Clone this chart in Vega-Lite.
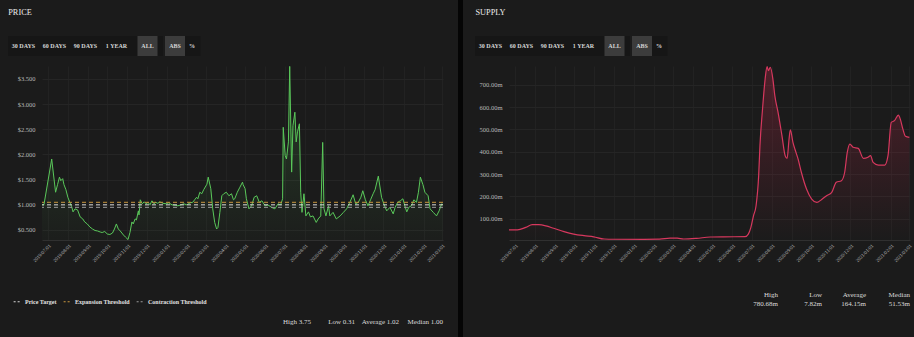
{
  "$schema": "https://vega.github.io/schema/vega-lite/v6.json",
  "background": "#1b1b1b",
  "padding": {"left": 8, "right": 7, "top": 0, "bottom": 0},
  "config": {
    "view": {"stroke": null},
    "font": "Liberation Serif",
    "axis": {"labelFont": "Liberation Serif", "labelColor": "#b8b8b8", "ticks": false, "domain": false, "title": null, "gridColor": "#252525", "gridWidth": 1},
    "legend": {"labelFont": "Liberation Serif"}
  },
  "datasets": {
    "buttons": [
      {"label": "30 DAYS", "group": "range", "active": false},
      {"label": "60 DAYS", "group": "range", "active": false},
      {"label": "90 DAYS", "group": "range", "active": false},
      {"label": "1 YEAR", "group": "range", "active": false},
      {"label": "ALL", "group": "range", "active": true},
      {"label": "ABS", "group": "mode", "active": true},
      {"label": "%", "group": "mode", "active": false}
    ],
    "thresholds": [
      {"series": "Price Target", "value": 1.0},
      {"series": "Expansion Threshold", "value": 1.05},
      {"series": "Contraction Threshold", "value": 0.95}
    ],
    "priceStats": [
      {"stat": "High", "text": "High 3.75"},
      {"stat": "Low", "text": "Low 0.31"},
      {"stat": "Average", "text": "Average 1.02"},
      {"stat": "Median", "text": "Median 1.00"}
    ],
    "supplyStats": [
      {"stat": "High", "value": "780.68m"},
      {"stat": "Low", "value": "7.82m"},
      {"stat": "Average", "value": "164.15m"},
      {"stat": "Median", "value": "51.53m"}
    ],
    "price": [
      {"date": "2019/06/22", "price": 1.00}, {"date": "2019/06/25", "price": 1.00}, {"date": "2019/07/07", "price": 1.91},
      {"date": "2019/07/13", "price": 1.25}, {"date": "2019/07/16", "price": 1.40}, {"date": "2019/07/19", "price": 1.55},
      {"date": "2019/07/21", "price": 1.48}, {"date": "2019/07/24", "price": 1.52}, {"date": "2019/07/26", "price": 1.40},
      {"date": "2019/07/29", "price": 1.30}, {"date": "2019/08/01", "price": 1.15}, {"date": "2019/08/04", "price": 1.05},
      {"date": "2019/08/07", "price": 0.96}, {"date": "2019/08/09", "price": 0.86}, {"date": "2019/08/12", "price": 0.92},
      {"date": "2019/08/16", "price": 0.90}, {"date": "2019/08/20", "price": 0.76}, {"date": "2019/08/24", "price": 0.72},
      {"date": "2019/08/27", "price": 0.66}, {"date": "2019/08/31", "price": 0.62}, {"date": "2019/09/04", "price": 0.56},
      {"date": "2019/09/08", "price": 0.52}, {"date": "2019/09/12", "price": 0.49}, {"date": "2019/09/16", "price": 0.48},
      {"date": "2019/09/20", "price": 0.46}, {"date": "2019/09/23", "price": 0.45}, {"date": "2019/09/27", "price": 0.47},
      {"date": "2019/10/01", "price": 0.42}, {"date": "2019/10/05", "price": 0.41}, {"date": "2019/10/09", "price": 0.44},
      {"date": "2019/10/12", "price": 0.52}, {"date": "2019/10/15", "price": 0.62}, {"date": "2019/10/18", "price": 0.52},
      {"date": "2019/10/21", "price": 0.48}, {"date": "2019/10/26", "price": 0.40}, {"date": "2019/10/29", "price": 0.36},
      {"date": "2019/11/02", "price": 0.31}, {"date": "2019/11/05", "price": 0.45}, {"date": "2019/11/08", "price": 0.66},
      {"date": "2019/11/10", "price": 0.62}, {"date": "2019/11/13", "price": 0.72}, {"date": "2019/11/15", "price": 0.70},
      {"date": "2019/11/18", "price": 0.88}, {"date": "2019/11/19", "price": 0.80}, {"date": "2019/11/21", "price": 1.10},
      {"date": "2019/11/24", "price": 1.02}, {"date": "2019/11/27", "price": 1.06}, {"date": "2019/11/30", "price": 1.02},
      {"date": "2019/12/03", "price": 1.05}, {"date": "2019/12/06", "price": 1.00}, {"date": "2019/12/09", "price": 1.08},
      {"date": "2019/12/12", "price": 1.02}, {"date": "2019/12/15", "price": 1.05}, {"date": "2019/12/18", "price": 1.03},
      {"date": "2019/12/21", "price": 1.06}, {"date": "2019/12/26", "price": 1.03}, {"date": "2019/12/31", "price": 1.02},
      {"date": "2020/01/04", "price": 1.04}, {"date": "2020/01/09", "price": 1.00}, {"date": "2020/01/14", "price": 0.99},
      {"date": "2020/01/18", "price": 0.98}, {"date": "2020/01/23", "price": 1.00}, {"date": "2020/01/27", "price": 1.02},
      {"date": "2020/02/01", "price": 1.00}, {"date": "2020/02/06", "price": 1.04}, {"date": "2020/02/10", "price": 1.05},
      {"date": "2020/02/13", "price": 1.10}, {"date": "2020/02/16", "price": 1.15}, {"date": "2020/02/18", "price": 1.12},
      {"date": "2020/02/21", "price": 1.25}, {"date": "2020/02/24", "price": 1.22}, {"date": "2020/02/27", "price": 1.30},
      {"date": "2020/03/03", "price": 1.41}, {"date": "2020/03/05", "price": 1.55}, {"date": "2020/03/09", "price": 1.32},
      {"date": "2020/03/12", "price": 0.92}, {"date": "2020/03/15", "price": 0.65}, {"date": "2020/03/18", "price": 0.52},
      {"date": "2020/03/20", "price": 0.55}, {"date": "2020/03/23", "price": 0.85}, {"date": "2020/03/26", "price": 1.18},
      {"date": "2020/03/29", "price": 1.22}, {"date": "2020/04/02", "price": 1.25}, {"date": "2020/04/06", "price": 1.18},
      {"date": "2020/04/10", "price": 1.22}, {"date": "2020/04/13", "price": 1.10}, {"date": "2020/04/15", "price": 1.12},
      {"date": "2020/04/19", "price": 1.25}, {"date": "2020/04/23", "price": 1.35}, {"date": "2020/04/27", "price": 1.45},
      {"date": "2020/04/28", "price": 1.40}, {"date": "2020/05/01", "price": 1.32}, {"date": "2020/05/03", "price": 1.12},
      {"date": "2020/05/07", "price": 0.92}, {"date": "2020/05/11", "price": 0.98}, {"date": "2020/05/15", "price": 1.15},
      {"date": "2020/05/19", "price": 1.18}, {"date": "2020/05/23", "price": 1.05}, {"date": "2020/05/27", "price": 1.08},
      {"date": "2020/06/01", "price": 0.98}, {"date": "2020/06/05", "price": 1.00}, {"date": "2020/06/11", "price": 0.95},
      {"date": "2020/06/16", "price": 0.92}, {"date": "2020/06/21", "price": 1.02}, {"date": "2020/06/25", "price": 1.00},
      {"date": "2020/06/28", "price": 1.12}, {"date": "2020/06/29", "price": 2.54}, {"date": "2020/07/02", "price": 1.98},
      {"date": "2020/07/04", "price": 1.91}, {"date": "2020/07/07", "price": 2.25}, {"date": "2020/07/09", "price": 3.75},
      {"date": "2020/07/12", "price": 1.65}, {"date": "2020/07/14", "price": 2.57}, {"date": "2020/07/17", "price": 2.84},
      {"date": "2020/07/19", "price": 2.25}, {"date": "2020/07/21", "price": 2.45}, {"date": "2020/07/24", "price": 2.61},
      {"date": "2020/07/26", "price": 1.25}, {"date": "2020/07/28", "price": 0.85}, {"date": "2020/07/31", "price": 1.22},
      {"date": "2020/08/03", "price": 0.78}, {"date": "2020/08/07", "price": 0.86}, {"date": "2020/08/10", "price": 0.76},
      {"date": "2020/08/14", "price": 0.78}, {"date": "2020/08/19", "price": 0.65}, {"date": "2020/08/22", "price": 0.72},
      {"date": "2020/08/26", "price": 0.78}, {"date": "2020/08/29", "price": 2.24}, {"date": "2020/08/31", "price": 0.92},
      {"date": "2020/09/03", "price": 0.78}, {"date": "2020/09/07", "price": 0.98}, {"date": "2020/09/09", "price": 0.78},
      {"date": "2020/09/14", "price": 0.85}, {"date": "2020/09/19", "price": 0.72}, {"date": "2020/09/25", "price": 0.78},
      {"date": "2020/09/30", "price": 0.85}, {"date": "2020/10/05", "price": 0.92}, {"date": "2020/10/10", "price": 1.05},
      {"date": "2020/10/15", "price": 1.20}, {"date": "2020/10/19", "price": 1.02}, {"date": "2020/10/23", "price": 1.05},
      {"date": "2020/10/27", "price": 1.15}, {"date": "2020/10/30", "price": 1.28}, {"date": "2020/11/03", "price": 1.10},
      {"date": "2020/11/07", "price": 0.98}, {"date": "2020/11/11", "price": 1.10}, {"date": "2020/11/15", "price": 1.22},
      {"date": "2020/11/18", "price": 1.30}, {"date": "2020/11/23", "price": 1.57}, {"date": "2020/11/28", "price": 1.15},
      {"date": "2020/12/02", "price": 1.00}, {"date": "2020/12/06", "price": 0.88}, {"date": "2020/12/11", "price": 0.95},
      {"date": "2020/12/16", "price": 0.82}, {"date": "2020/12/19", "price": 0.95}, {"date": "2020/12/23", "price": 1.05},
      {"date": "2020/12/27", "price": 1.08}, {"date": "2020/12/31", "price": 1.12}, {"date": "2021/01/03", "price": 0.98},
      {"date": "2021/01/06", "price": 0.86}, {"date": "2021/01/09", "price": 0.95}, {"date": "2021/01/13", "price": 0.98},
      {"date": "2021/01/17", "price": 1.10}, {"date": "2021/01/21", "price": 1.05}, {"date": "2021/01/24", "price": 1.25},
      {"date": "2021/01/27", "price": 1.55}, {"date": "2021/01/31", "price": 1.40}, {"date": "2021/02/03", "price": 1.25},
      {"date": "2021/02/08", "price": 1.18}, {"date": "2021/02/11", "price": 0.92}, {"date": "2021/02/16", "price": 0.85},
      {"date": "2021/02/21", "price": 0.78}, {"date": "2021/02/25", "price": 0.88}, {"date": "2021/03/01", "price": 1.02},
      {"date": "2021/03/03", "price": 1.00}
    ],
    "supply": [
      {"date": "2019/06/22", "supply": 50}, {"date": "2019/07/05", "supply": 50}, {"date": "2019/07/18", "supply": 61},
      {"date": "2019/07/28", "supply": 73}, {"date": "2019/08/07", "supply": 73}, {"date": "2019/08/18", "supply": 68},
      {"date": "2019/08/30", "supply": 57}, {"date": "2019/09/15", "supply": 42}, {"date": "2019/09/30", "supply": 31},
      {"date": "2019/10/16", "supply": 24}, {"date": "2019/10/31", "supply": 19}, {"date": "2019/11/16", "supply": 9},
      {"date": "2019/12/01", "supply": 8}, {"date": "2020/01/16", "supply": 7.82}, {"date": "2020/02/10", "supply": 8.5},
      {"date": "2020/02/26", "supply": 13}, {"date": "2020/03/08", "supply": 13}, {"date": "2020/03/18", "supply": 9},
      {"date": "2020/04/07", "supply": 12}, {"date": "2020/04/28", "supply": 18}, {"date": "2020/05/19", "supply": 19},
      {"date": "2020/06/21", "supply": 19.5}, {"date": "2020/06/26", "supply": 31}, {"date": "2020/06/30", "supply": 61},
      {"date": "2020/07/04", "supply": 113}, {"date": "2020/07/08", "supply": 158}, {"date": "2020/07/12", "supply": 292},
      {"date": "2020/07/14", "supply": 427}, {"date": "2020/07/18", "supply": 591}, {"date": "2020/07/22", "supply": 725},
      {"date": "2020/07/25", "supply": 780.68}, {"date": "2020/07/27", "supply": 763}, {"date": "2020/07/30", "supply": 778},
      {"date": "2020/08/03", "supply": 725}, {"date": "2020/08/06", "supply": 651}, {"date": "2020/08/11", "supply": 576},
      {"date": "2020/08/17", "supply": 472}, {"date": "2020/08/22", "supply": 382}, {"date": "2020/08/25", "supply": 370},
      {"date": "2020/08/28", "supply": 457}, {"date": "2020/08/30", "supply": 498}, {"date": "2020/09/03", "supply": 442},
      {"date": "2020/09/06", "supply": 412}, {"date": "2020/09/11", "supply": 367}, {"date": "2020/09/16", "supply": 308},
      {"date": "2020/09/24", "supply": 233}, {"date": "2020/10/02", "supply": 188}, {"date": "2020/10/10", "supply": 173},
      {"date": "2020/10/17", "supply": 185}, {"date": "2020/10/25", "supply": 203}, {"date": "2020/11/02", "supply": 218},
      {"date": "2020/11/09", "supply": 263}, {"date": "2020/11/17", "supply": 270}, {"date": "2020/11/22", "supply": 308},
      {"date": "2020/11/26", "supply": 397}, {"date": "2020/11/30", "supply": 434}, {"date": "2020/12/05", "supply": 420},
      {"date": "2020/12/13", "supply": 415}, {"date": "2020/12/21", "supply": 370}, {"date": "2020/12/28", "supply": 375},
      {"date": "2021/01/01", "supply": 382}, {"date": "2021/01/05", "supply": 352}, {"date": "2021/01/13", "supply": 340},
      {"date": "2021/01/23", "supply": 340}, {"date": "2021/01/28", "supply": 382}, {"date": "2021/02/02", "supply": 531},
      {"date": "2021/02/07", "supply": 539}, {"date": "2021/02/13", "supply": 564}, {"date": "2021/02/16", "supply": 546},
      {"date": "2021/02/20", "supply": 501}, {"date": "2021/02/24", "supply": 469}, {"date": "2021/03/02", "supply": 464}
    ]
  },
  "resolve": {"scale": {"color": "independent"}, "legend": {"color": "independent"}},
  "columns": 3,
  "align": "none",
  "spacing": 12,
  "concat": [
    {
      "resolve": {"scale": {"color": "independent"}, "legend": {"color": "independent"}},
      "columns": 1,
      "align": "none",
      "spacing": 10,
      "concat": [
        {
          "width": 24, "height": 26,
          "data": {"values": [{"name": "PRICE"}]},
          "mark": {"type": "text", "fontSize": 8.3, "color": "#ececec"},
          "encoding": {"text": {"field": "name"}}
        },
        {
          "spacing": 1.5,
          "hconcat": [
            {
              "width": 155, "height": 20,
              "view": {"fill": "#161616", "stroke": null},
              "data": {"name": "buttons"},
              "transform": [{"filter": "datum.group === 'range'"}],
              "encoding": {"x": {"field": "label", "type": "nominal", "scale": {"domain": ["30 DAYS", "60 DAYS", "90 DAYS", "1 YEAR", "ALL"], "paddingInner": 0, "paddingOuter": 0}, "axis": null}},
              "layer": [
                {"transform": [{"filter": "datum.active"}], "mark": {"type": "bar", "width": 20, "color": "#3c3c3c"}},
                {"mark": {"type": "text", "fontSize": 6, "fontWeight": "bold", "color": "#d6d6d6"}, "encoding": {"text": {"field": "label"}}}
              ]
            },
            {
              "width": 34, "height": 20,
              "view": {"fill": "#161616", "stroke": null},
              "data": {"name": "buttons"},
              "transform": [{"filter": "datum.group === 'mode'"}],
              "encoding": {"x": {"field": "label", "type": "nominal", "scale": {"domain": ["ABS", "%"], "paddingInner": 0, "paddingOuter": 0}, "axis": null}},
              "layer": [
                {"transform": [{"filter": "datum.active"}], "mark": {"type": "bar", "width": 20, "color": "#3c3c3c"}},
                {"mark": {"type": "text", "fontSize": 6, "fontWeight": "bold", "color": "#d6d6d6"}, "encoding": {"text": {"field": "label"}}}
              ]
            }
          ]
        },
        {
          "resolve": {"scale": {"color": "independent"}, "legend": {"color": "independent"}},
          "spacing": 0,
          "hconcat": [
            {
              "width": 1, "height": 174,
              "data": {"values": [{}]},
              "mark": {"type": "text"},
              "encoding": {"text": {"value": ""}}
            },
            {
              "width": 401, "height": 174,
              "layer": [
                {
                  "data": {"name": "price"},
                  "mark": {"type": "area", "clip": true, "color": {"gradient": "linear", "x1": 0, "y1": 0, "x2": 0, "y2": 1, "stops": [{"offset": 0, "color": "rgba(90,200,90,0.2)"}, {"offset": 1, "color": "rgba(90,200,90,0)"}]}},
                  "encoding": {
                    "x": {"field": "date", "type": "temporal", "scale": {"domain": [{"year": 2019, "month": 6, "date": 22}, {"year": 2021, "month": 3, "date": 3}]}, "axis": {"format": "%Y/%m/%d", "tickCount": {"interval": "month", "step": 1}, "labelAngle": -45, "labelFontSize": 5, "labelPadding": 3, "labelOverlap": false, "labelFlush": false, "grid": true, "gridColor": "#222222", "domain": true, "domainColor": "#303030"}},
                    "y": {"field": "price", "type": "quantitative", "scale": {"domain": [0.301, 3.758], "nice": false, "zero": false}, "axis": {"values": [0.5, 1.0, 1.5, 2.0, 2.5, 3.0, 3.5], "format": "$,.3f", "labelFontSize": 6.5, "labelPadding": 7, "labelOverlap": false, "minExtent": 33, "grid": true}}
                  }
                },
                {
                  "data": {"name": "price"},
                  "mark": {"type": "line", "clip": true, "color": "#5ac85a", "strokeWidth": 1},
                  "encoding": {
                    "x": {"field": "date", "type": "temporal", "axis": {"format": "%Y/%m/%d", "tickCount": {"interval": "month", "step": 1}, "labelAngle": -45, "labelFontSize": 5, "labelPadding": 3, "labelOverlap": false, "labelFlush": false, "grid": true, "gridColor": "#222222", "domain": true, "domainColor": "#303030"}},
                    "y": {"field": "price", "type": "quantitative", "axis": {"values": [0.5, 1.0, 1.5, 2.0, 2.5, 3.0, 3.5], "format": "$,.3f", "labelFontSize": 6.5, "labelPadding": 7, "labelOverlap": false, "minExtent": 33, "grid": true}}
                  }
                },
                {
                  "data": {"name": "thresholds"},
                  "mark": {"type": "rule", "strokeDash": [4, 3], "strokeWidth": 1},
                  "encoding": {
                    "y": {"field": "value", "type": "quantitative", "axis": {"values": [0.5, 1.0, 1.5, 2.0, 2.5, 3.0, 3.5], "format": "$,.3f", "labelFontSize": 6.5, "labelPadding": 7, "labelOverlap": false, "minExtent": 33, "grid": true}},
                    "color": {"field": "series", "type": "nominal", "scale": {"domain": ["Price Target", "Expansion Threshold", "Contraction Threshold"], "range": ["#d8d8d8", "#c9973f", "#9a9a9a"]},
                      "legend": {"title": null, "orient": "none", "legendX": -29, "legendY": 231, "direction": "horizontal", "symbolType": "stroke", "symbolStrokeWidth": 1.2, "symbolSize": 60, "symbolDash": [2, 2], "labelFontSize": 6, "labelColor": "#e0e0e0", "labelFontWeight": "bold", "columnPadding": 4, "labelOffset": 3}}
                  }
                }
              ]
            }
          ]
        },
        {
          "spacing": 0,
          "hconcat": [
            {
              "width": 259, "height": 14,
              "data": {"values": [{}]},
              "mark": {"type": "text"},
              "encoding": {"text": {"value": ""}}
            },
            {
              "width": 176, "height": 14,
              "data": {"name": "priceStats"},
              "mark": {"type": "text", "align": "right", "fontSize": 7, "color": "#dcdcdc"},
              "encoding": {
                "x": {"field": "stat", "type": "nominal", "bandPosition": 1, "scale": {"type": "band", "domain": ["High", "Low", "Average", "Median"], "paddingInner": 0, "paddingOuter": 0}, "axis": null},
                "text": {"field": "text"}
              }
            }
          ]
        }
      ]
    },
    {
      "width": 5, "height": 337,
      "view": {"fill": "#050505", "stroke": null},
      "data": {"values": [{}]},
      "mark": {"type": "rect", "color": "#050505"},
      "encoding": {}
    },
    {
      "columns": 1,
      "align": "none",
      "spacing": 10,
      "concat": [
        {
          "width": 31, "height": 26,
          "data": {"values": [{"name": "SUPPLY"}]},
          "mark": {"type": "text", "fontSize": 8.3, "color": "#ececec"},
          "encoding": {"text": {"field": "name"}}
        },
        {
          "spacing": 1.5,
          "hconcat": [
            {
              "width": 155, "height": 20,
              "view": {"fill": "#161616", "stroke": null},
              "data": {"name": "buttons"},
              "transform": [{"filter": "datum.group === 'range'"}],
              "encoding": {"x": {"field": "label", "type": "nominal", "scale": {"domain": ["30 DAYS", "60 DAYS", "90 DAYS", "1 YEAR", "ALL"], "paddingInner": 0, "paddingOuter": 0}, "axis": null}},
              "layer": [
                {"transform": [{"filter": "datum.active"}], "mark": {"type": "bar", "width": 20, "color": "#3c3c3c"}},
                {"mark": {"type": "text", "fontSize": 6, "fontWeight": "bold", "color": "#d6d6d6"}, "encoding": {"text": {"field": "label"}}}
              ]
            },
            {
              "width": 34, "height": 20,
              "view": {"fill": "#161616", "stroke": null},
              "data": {"name": "buttons"},
              "transform": [{"filter": "datum.group === 'mode'"}],
              "encoding": {"x": {"field": "label", "type": "nominal", "scale": {"domain": ["ABS", "%"], "paddingInner": 0, "paddingOuter": 0}, "axis": null}},
              "layer": [
                {"transform": [{"filter": "datum.active"}], "mark": {"type": "bar", "width": 20, "color": "#3c3c3c"}},
                {"mark": {"type": "text", "fontSize": 6, "fontWeight": "bold", "color": "#d6d6d6"}, "encoding": {"text": {"field": "label"}}}
              ]
            }
          ]
        },
        {
          "spacing": 0,
          "hconcat": [
            {
              "width": 1, "height": 174,
              "data": {"values": [{}]},
              "mark": {"type": "text"},
              "encoding": {"text": {"value": ""}}
            },
            {
              "width": 401, "height": 174,
              "data": {"name": "supply"},
              "encoding": {
                "x": {"field": "date", "type": "temporal", "scale": {"domain": [{"year": 2019, "month": 6, "date": 22}, {"year": 2021, "month": 3, "date": 3}]}, "axis": {"format": "%Y/%m/%d", "tickCount": {"interval": "month", "step": 1}, "labelAngle": -45, "labelFontSize": 5, "labelPadding": 3, "labelOverlap": false, "labelFlush": false, "grid": true, "gridColor": "#222222", "domain": true, "domainColor": "#303030"}},
                "y": {"field": "supply", "type": "quantitative", "scale": {"domain": [4.6, 783.7], "nice": false, "zero": false}, "axis": {"values": [100, 200, 300, 400, 500, 600, 700], "labelExpr": "format(datum.value, '.2f') + 'm'", "labelFontSize": 6.5, "labelPadding": 7, "labelOverlap": false, "minExtent": 33, "grid": true}}
              },
              "layer": [
                {"mark": {"type": "area", "clip": true, "interpolate": "monotone", "color": {"gradient": "linear", "x1": 0, "y1": 0, "x2": 0, "y2": 1, "stops": [{"offset": 0, "color": "rgba(200,40,75,0.3)"}, {"offset": 1, "color": "rgba(200,40,75,0)"}]}}},
                {"mark": {"type": "line", "clip": true, "interpolate": "monotone", "color": "#d6385e", "strokeWidth": 1.2}}
              ]
            }
          ]
        },
        {
          "spacing": 0,
          "hconcat": [
            {
              "width": 259, "height": 52,
              "data": {"values": [{}]},
              "mark": {"type": "text"},
              "encoding": {"text": {"value": ""}}
            },
            {
              "width": 176, "height": 52,
              "data": {"name": "supplyStats"},
              "encoding": {
                "x": {"field": "stat", "type": "nominal", "bandPosition": 1, "scale": {"type": "band", "domain": ["High", "Low", "Average", "Median"], "paddingInner": 0, "paddingOuter": 0}, "axis": null}
              },
              "layer": [
                {"mark": {"type": "text", "align": "right", "baseline": "bottom", "dy": -1, "fontSize": 7, "color": "#dcdcdc"}, "encoding": {"text": {"field": "stat"}}},
                {"mark": {"type": "text", "align": "right", "baseline": "top", "dy": 1, "fontSize": 7, "color": "#dcdcdc"}, "encoding": {"text": {"field": "value"}}}
              ]
            }
          ]
        }
      ]
    }
  ]
}
